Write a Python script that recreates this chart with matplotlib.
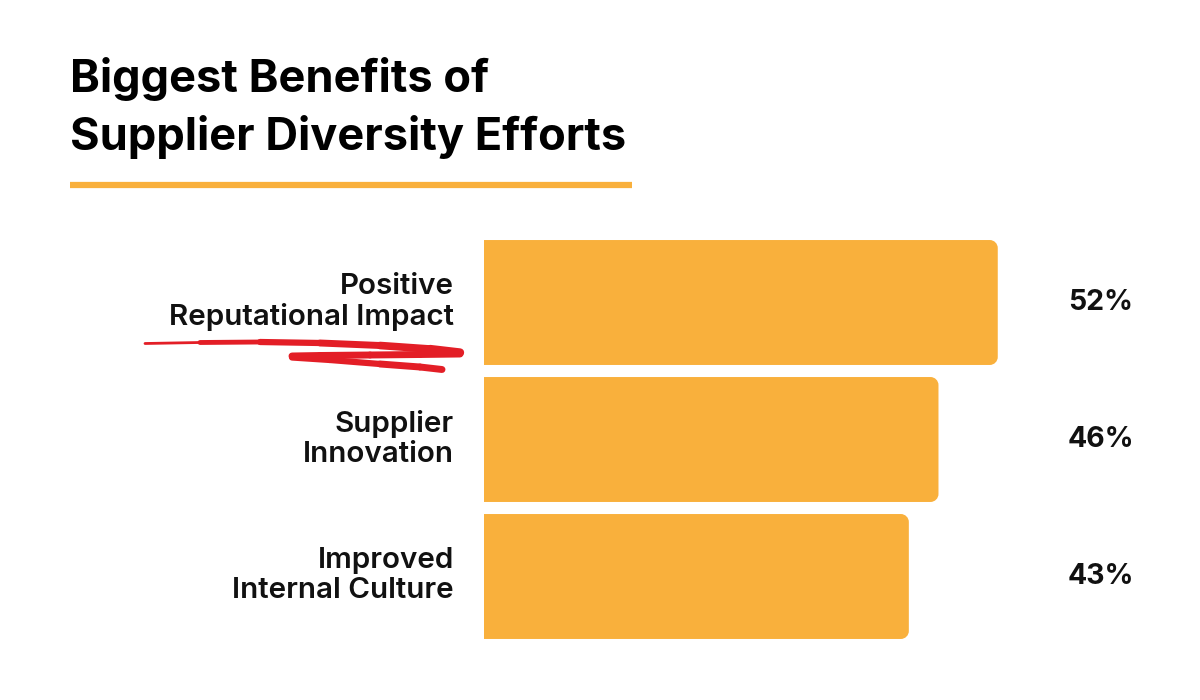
import numpy as np
import matplotlib.pyplot as plt
from matplotlib.path import Path
from matplotlib.patches import PathPatch
from matplotlib.collections import LineCollection

plt.rcParams['font.family'] = ['Inter', 'DejaVu Sans']

categories = ['Positive\nReputational Impact', 'Supplier\nInnovation', 'Improved\nInternal Culture']
values = [52, 46, 43]
value_labels = ['52%', '46%', '43%']

W, H = 1200, 700
orange = '#F9B03C'
red = '#E31E26'


def fx(px):
    return px / W


def fy(py):
    return 1 - py / H


def rounded_right(x0, y0, x1, y1, rx, ry):
    # bar with square left side and rounded right corners (data coords, y inverted)
    k = 0.5523
    verts = [
        (x0, y0), (x1 - rx, y0),
        (x1 - rx + rx * k, y0), (x1, y0 + ry - ry * k), (x1, y0 + ry),
        (x1, y1 - ry),
        (x1, y1 - ry + ry * k), (x1 - rx + rx * k, y1), (x1 - rx, y1),
        (x0, y1), (x0, y0),
    ]
    codes = [Path.MOVETO, Path.LINETO,
             Path.CURVE4, Path.CURVE4, Path.CURVE4,
             Path.LINETO,
             Path.CURVE4, Path.CURVE4, Path.CURVE4,
             Path.LINETO, Path.CLOSEPOLY]
    return Path(verts, codes)


fig = plt.figure(figsize=(12, 7), dpi=100)
fig.patch.set_facecolor('white')

# bars axes: x=0 at 484 px, 9.88 px per percent
px_per = 9.88
xmax = 60
ax_left, ax_w = 484, xmax * px_per
ax_top, ax_bot = 234, 645
ax = fig.add_axes([fx(ax_left), fy(ax_bot), ax_w / W, (ax_bot - ax_top) / H])
ax.set_xlim(0, xmax)
ax.set_ylim(len(values) - 0.5, -0.5)
ax.axis('off')

bh = 0.912
bars = ax.barh(range(len(values)), values, height=bh, color='none')
rx = 8 / px_per
ry = 8 / 137
for b in bars:
    x0, y0 = b.get_x(), b.get_y()
    x1, y1 = x0 + b.get_width(), y0 + b.get_height()
    ax.add_patch(PathPatch(rounded_right(x0, y0, x1, y1, rx, ry),
                           facecolor=orange, edgecolor='none'))

for i, (cat, lab) in enumerate(zip(categories, value_labels)):
    ax.text(-30 / px_per, i - 0.005, cat, ha='right', va='center', fontsize=21.3,
            fontweight='semibold', color='#111111', linespacing=1.15)
    ax.text((1101 - ax_left) / px_per, i, lab, ha='center', va='center',
            fontsize=20.5, fontweight='bold', color='#111111')

# title
fig.text(fx(70), fy(92), 'Biggest Benefits of', ha='left', va='baseline',
         fontsize=32.5, fontweight='bold', color='black')
fig.text(fx(70), fy(150), 'Supplier Diversity Efforts', ha='left', va='baseline',
         fontsize=32.5, fontweight='bold', color='black')

# underline
fig.add_artist(plt.Line2D([fx(70), fx(632)], [fy(185), fy(185)],
                          color=orange, linewidth=4.5, solid_capstyle='butt'))

# red swoosh under first label
strokes = [
    ([145, 200, 260, 320, 380, 430, 460], [343.5, 342.5, 342, 343, 345.5, 349, 352.5], [0.5, 2, 3.5, 4.5, 5, 5.5, 6]),
    ([460, 420, 370, 320, 292], [354, 354.5, 355, 355.5, 356], [6, 5, 5, 5, 5]),
    ([292, 330, 380, 420, 442], [357.5, 360, 364, 367, 369.5], [5, 4.5, 4.5, 5, 5]),
]
for xs, ys, lw in strokes:
    pts = np.column_stack([[fx(v) for v in xs], [fy(v) for v in ys]])
    segs = [pts[j:j + 2] for j in range(len(pts) - 1)]
    lc = LineCollection(segs, linewidths=lw[1:], colors=red, capstyle='round',
                        transform=fig.transFigure)
    fig.add_artist(lc)

fig.savefig('out.png', dpi=100, facecolor='white')
